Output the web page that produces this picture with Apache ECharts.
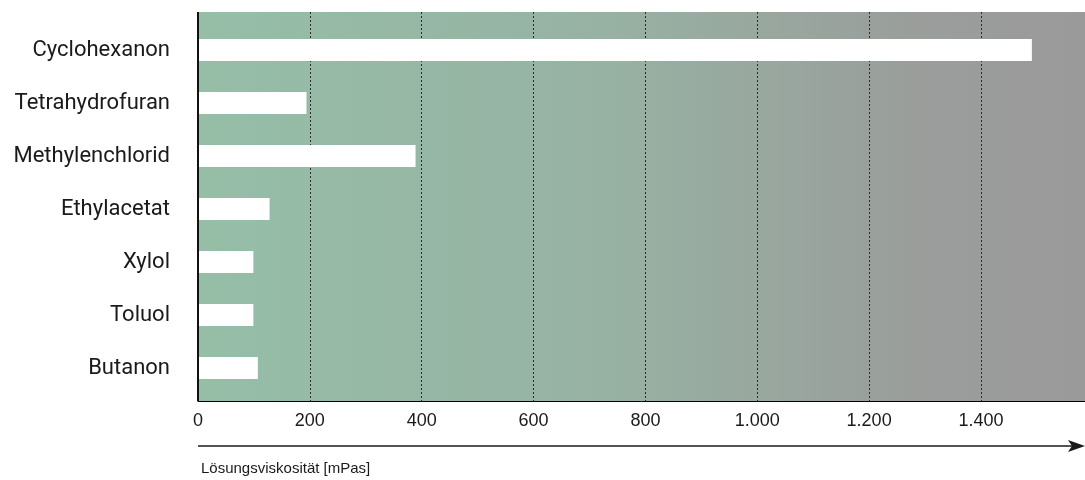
<!DOCTYPE html>
<html>
<head>
<meta charset="utf-8">
<script src="https://cdn.jsdelivr.net/npm/echarts@6/dist/echarts.min.js"></script>
<style>
  html, body { margin: 0; padding: 0; background: #ffffff; }
  #chart { width: 1085px; height: 480px; }
</style>
</head>
<body>
<div id="chart"></div>
<script>
// Solution viscosity per solvent
const solvents = ['Cyclohexanon', 'Tetrahydrofuran', 'Methylenchlorid', 'Ethylacetat', 'Xylol', 'Toluol', 'Butanon'];
const viscosity = [1491, 194, 389, 128, 99, 99, 107];
const axisMax = 1586;
const tickStep = 200;
const axisTitle = 'Lösungsviskosität [mPas]';

const fmt = v => String(v).replace(/\B(?=(\d{3})+(?!\d))/g, '.');

const chart = echarts.init(document.getElementById('chart'), null, { renderer: 'canvas' });

const gridLeft = 198;
const plotTop = 12;
const plotHeight = 389;
const sans = '"Liberation Sans", Arial, sans-serif';

chart.setOption({
  animation: false,
  grid: [
    // background panel with dotted value gridlines
    { left: gridLeft, top: plotTop, right: 0, height: plotHeight,
      show: true, borderWidth: 0,
      backgroundColor: {
        type: 'linear', x: 0, y: 0, x2: 1, y2: 0,
        colorStops: [
          { offset: 0, color: '#95bea7' },
          { offset: 0.45, color: '#97b2a3' },
          { offset: 0.8, color: '#9a9e9b' },
          { offset: 1, color: '#9a9a9a' }
        ]
      } },
    // bar rows
    { left: gridLeft, top: 23.5, right: 0, height: 371 }
  ],
  xAxis: [
    { gridIndex: 0, type: 'value', min: 0, max: axisMax, interval: tickStep,
      axisLine: { show: true, lineStyle: { color: '#000', width: 1 } },
      axisTick: { show: false },
      axisLabel: { showMaxLabel: false, formatter: fmt, color: '#1a1a1a',
        fontFamily: sans, fontSize: 18, margin: 11 },
      splitLine: { show: true, lineStyle: { color: '#2b2b2b', type: [2, 2], width: 1 } } },
    { gridIndex: 1, type: 'value', min: 0, max: axisMax, show: false }
  ],
  yAxis: [
    { gridIndex: 0, type: 'value', show: false },
    { gridIndex: 1, type: 'category', data: solvents, inverse: true,
      axisLine: { show: false }, axisTick: { show: false },
      axisLabel: { color: '#1a1a1a', fontFamily: 'Roboto', fontSize: 22, margin: 28 } }
  ],
  series: [
    { type: 'bar', xAxisIndex: 1, yAxisIndex: 1, data: viscosity,
      barWidth: 22, itemStyle: { color: '#ffffff' }, silent: true }
  ],
  graphic: [
    // left edge of the panel
    { type: 'line', shape: { x1: gridLeft, y1: plotTop, x2: gridLeft, y2: plotTop + plotHeight },
      style: { stroke: '#111', lineWidth: 2 }, z: 100 },
    // axis arrow
    { type: 'line', shape: { x1: gridLeft, y1: 446, x2: 1074, y2: 446 },
      style: { stroke: '#1a1a1a', lineWidth: 1.5 } },
    { type: 'polygon', shape: { points: [[1068, 440], [1085, 446], [1068, 452], [1072, 446]] },
      style: { fill: '#1a1a1a' } },
    { type: 'text', x: gridLeft + 3, y: 469,
      style: { text: axisTitle, fill: '#1a1a1a', font: '15px ' + sans, verticalAlign: 'middle' } }
  ]
});
</script>
</body>
</html>
